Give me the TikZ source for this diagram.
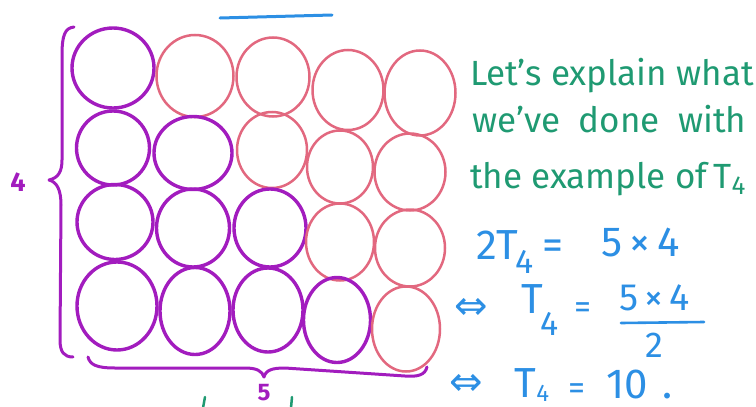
\documentclass[tikz,border=0pt]{standalone}
\usepackage{fontspec}
\setmainfont{Fira Sans}
\newfontfamily\symfont{DejaVu Sans}
\usetikzlibrary{shapes.geometric}
\definecolor{purp}{HTML}{A21CBE}
\definecolor{pinkc}{HTML}{E2687F}
\definecolor{greenc}{HTML}{1F9A72}
\definecolor{bluec}{HTML}{2C8FE4}
\tikzset{
  pc/.style={ellipse, draw=purp, line width=3.4pt, inner sep=0pt},
  kc/.style={ellipse, draw=pinkc, line width=2.5pt, inner sep=0pt},
  gtext/.style={text=greenc, font=\fontsize{35}{35}\selectfont, anchor=base west, inner sep=0pt},
  btext/.style={text=bluec, font=\fontsize{42}{42}\selectfont, anchor=base west, inner sep=0pt},
  bsub/.style={text=bluec, font=\fontsize{34}{34}\selectfont, anchor=base west, inner sep=0pt},
  barrow/.style={text=bluec, font=\symfont\fontsize{40}{40}\selectfont, anchor=center, inner sep=0pt},
  brace/.style={draw=purp, line width=3pt, line cap=round, line join=round}
}
\begin{document}
\begin{tikzpicture}[x=1pt,y=-1pt]
\useasboundingbox (0,0) rectangle (756,407);
\clip (0,0) rectangle (756,407);
% row 1
\node[pc, minimum width=82pt, minimum height=80pt] (c11) at (113,68) {};
\node[kc, minimum width=77pt, minimum height=82pt] (c12) at (195,76) {};
\node[kc, minimum width=73pt, minimum height=79pt] (c13) at (273,77) {};
\node[kc, minimum width=71pt, minimum height=80pt] (c14) at (348,90) {};
\node[kc, minimum width=71pt, minimum height=85pt] (c15) at (420,93) {};
% row 2
\node[pc, minimum width=73pt, minimum height=74pt] (c21) at (113,148) {};
\node[pc, minimum width=78pt, minimum height=73pt] (c22) at (193,153) {};
\node[kc, minimum width=70pt, minimum height=76pt] (c23) at (272,150) {};
\node[kc, minimum width=66pt, minimum height=73pt] (c24) at (340,167) {};
\node[kc, minimum width=71pt, minimum height=77pt] (c25) at (410,172) {};
% row 3
\node[pc, minimum width=76pt, minimum height=75pt] (c31) at (115,222) {};
\node[pc, minimum width=73pt, minimum height=78pt] (c32) at (193,228) {};
\node[pc, minimum width=72pt, minimum height=78pt] (c33) at (270,228) {};
\node[kc, minimum width=68pt, minimum height=77pt] (c34) at (340,242) {};
\node[kc, minimum width=70pt, minimum height=77pt] (c35) at (410,248) {};
% row 4
\node[pc, minimum width=80pt, minimum height=88pt] (c41) at (117,306) {};
\node[pc, minimum width=70pt, minimum height=87pt] (c42) at (195,311) {};
\node[pc, minimum width=70pt, minimum height=84pt] (c43) at (268,310) {};
\node[pc, minimum width=67pt, minimum height=85pt] (c44) at (337,320) {};
\node[kc, minimum width=68pt, minimum height=85pt] (c45) at (406,329) {};
% left brace
\draw[brace] (74,27) .. controls (65,28) and (62,35) .. (62,55)
  -- (62,160) .. controls (62,172) and (58,178) .. (49,180)
  .. controls (57,182) and (61,190) .. (61,205)
  -- (60,340) .. controls (60,352) and (64,357) .. (73,357);
\node[text=purp, font=\bfseries\fontsize{27}{27}\selectfont, inner sep=0pt] (lab4) at (18,182) {4};
% bottom brace
\draw[brace] (88,357) .. controls (90,365) and (97,368) .. (115,368)
  -- (245,368) .. controls (257,368) and (262,371) .. (264,377)
  .. controls (266,370) and (272,368) .. (285,368)
  -- (405,376) .. controls (418,377) and (425,375) .. (427,367);
\node[text=purp, font=\bfseries\fontsize{24}{24}\selectfont, inner sep=0pt] (lab5) at (264,393) {5};
% fragments at edges
\coordinate (bl1) at (220,18);
\coordinate (bl2) at (332,15);
\draw[bluec, line width=3pt, line cap=round] (bl1) -- (bl2);
\coordinate (g1a) at (205,397);
\coordinate (g1b) at (203,408);
\coordinate (g2a) at (292,397);
\coordinate (g2b) at (291,408);
\draw[greenc, line width=2.5pt, line cap=round] (g1a) -- (g1b);
\draw[greenc, line width=2.5pt, line cap=round] (g2a) -- (g2b);
% green text
\node[gtext] (t1) at (470,85) {Let’s explain what};
\node[gtext] (t2) at (472,132) {we’ve\ \ done\ \ with};
\node[gtext] (t3) at (470,188) {the example of\,T};
\node[text=greenc, font=\fontsize{26}{26}\selectfont, anchor=base west, inner sep=0pt] (t3s) at ([yshift=-6pt]t3.base east) {4};
% equation line 1
\node[btext] (e1a) at (476,259) {2T};
\node[bsub] (e1s) at ([yshift=-14pt,xshift=-3pt]e1a.base east) {4};
\node[btext] (e1eq) at (542,259) {=};
\node[btext] (e1r) at (601,256) {5\,×\,4};
% equation line 2
\node[barrow] (a2) at (471,309) {⇔};
\node[btext] (e2a) at (521,313) {T};
\node[bsub] (e2s) at ([yshift=-22pt,xshift=-3pt]e2a.base east) {4};
\node[btext, font=\fontsize{34}{34}\selectfont] (e2eq) at (574,318) {=};
\node[btext, font=\fontsize{38}{38}\selectfont] (e2n) at (619,310) {5\,×\,4};
\coordinate (barL) at (621,323);
\coordinate (barR) at (704,322);
\draw[bluec, line width=2.6pt, line cap=round] (barL) -- (barR);
\node[btext, font=\fontsize{36}{36}\selectfont] (e2d) at (645,357) {2};
% equation line 3
\node[barrow] (a3) at (466,385) {⇔};
\node[btext] (e3a) at (514,397) {T};
\node[bsub, font=\fontsize{24}{24}\selectfont] (e3s) at ([yshift=-4pt]e3a.base east) {4};
\node[btext, font=\fontsize{34}{34}\selectfont] (e3eq) at (568,399) {=};
\node[btext] (e3r) at (606,398) {10};
\node[btext] (e3d) at (662,398) {.};
\end{tikzpicture}
\end{document}
